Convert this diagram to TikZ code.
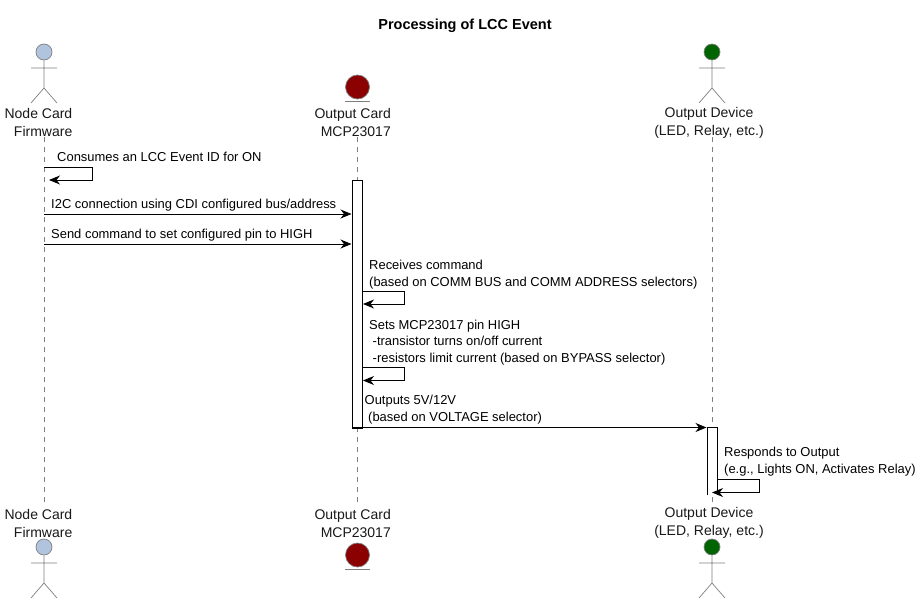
\documentclass[tikz,border=0pt]{standalone}
\usepackage{fontspec}
\setmainfont{Liberation Sans}
\usepackage{tikz}
\usetikzlibrary{arrows.meta}
\usetikzlibrary{calc}
\definecolor{headblue}{HTML}{B0C4DE}
\definecolor{cardred}{HTML}{8B0000}
\definecolor{devgreen}{HTML}{006400}
\definecolor{linegray}{HTML}{7F7F7F}
\definecolor{inkblack}{HTML}{181818}
\tikzset{
	x=1pt, y=-1pt,
	lifeline/.style={draw=linegray, dash pattern=on 5pt off 5pt, line width=0.6pt},
	stick/.style={draw=linegray, line width=0.7pt},
	headnode/.style={circle, draw=linegray, line width=0.7pt, minimum size=16pt, inner sep=0pt},
	entnode/.style={circle, draw=linegray, line width=0.7pt, minimum size=24pt, inner sep=0pt, fill=cardred},
	partlabel/.style={align=right, anchor=east, inner sep=0pt, font=\fontsize{14}{18}\selectfont, text=inkblack},
	devlabelstyle/.style={align=center, inner sep=0pt, font=\fontsize{14}{18}\selectfont, text=inkblack},
	msgtext/.style={align=left, anchor=west, inner sep=0pt, font=\fontsize{12.95}{16.5}\selectfont, text=black},
	msg/.style={draw=black, line width=0.9pt, -{Stealth[length=11pt,width=9pt,inset=3.5pt]}},
	activation/.style={draw=black, line width=0.9pt, fill=white}
}
\begin{document}
\begin{tikzpicture}
\useasboundingbox (0,0) rectangle (924,603);
\node[font=\fontsize{14.5}{16}\selectfont\bfseries] (title) at (465,26) {Processing of LCC Event};

% lifelines
\foreach \nm/\px in {fw/44, mc/357.5, dev/712}{
	\coordinate (\nm top) at (\px,137);
	\coordinate (\nm bot) at (\px,505);
	\path[lifeline] (\nm top) -- (\nm bot);
}

% participants
\foreach \nm/\py/\col in {fwhead/52/headblue, fwtail/547/headblue}{
	\node[headnode, fill=\col] (\nm) at (44,\py) {};
	\coordinate (\nm hip) at ($(\nm)+(0,36)$);
	\path[stick] (\nm.south) -- (\nm hip) -- +(-13,15) (\nm hip) -- +(13,15)
		($(\nm)+(-13,16)$) -- ($(\nm)+(13,16)$);
}
\foreach \nm/\py/\col in {devhead/52/devgreen, devtail/547/devgreen}{
	\node[headnode, fill=\col] (\nm) at (712,\py) {};
	\coordinate (\nm hip) at ($(\nm)+(0,36)$);
	\path[stick] (\nm.south) -- (\nm hip) -- +(-13,15) (\nm hip) -- +(13,15)
		($(\nm)+(-13,16)$) -- ($(\nm)+(13,16)$);
}
\foreach \nm/\py in {mchead/87, mctail/555}{
	\node[entnode] (\nm) at (357.5,\py) {};
	\path[stick] ($(\nm)+(-12.5,14)$) -- ($(\nm)+(12.5,14)$);
}

\node[partlabel] (fwlabel) at (72.5,122.5) {Node Card\\Firmware};
\node[partlabel] (mclabel) at (391,122.5) {Output Card\\MCP23017};
\node[devlabelstyle] (devlabel) at (709,122.5) {Output Device\\(LED, Relay, etc.)};
\node[partlabel] (fwlabelb) at (72.5,523) {Node Card\\Firmware};
\node[partlabel] (mclabelb) at (391,523) {Output Card\\MCP23017};
\node[devlabelstyle] (devlabelb) at (709,523) {Output Device\\(LED, Relay, etc.)};

% activations
\node[activation, minimum width=10pt, minimum height=248pt, inner sep=0pt, anchor=north] (mcbar) at (357.5,179.5) {};
\path[activation] (707.5,495) |- (717.5,427.5) -- (717.5,495);

% messages
\coordinate (fwself) at (44,167);
\coordinate (fwback) at (49,180);
\coordinate (fwi2c) at (44,214);
\coordinate (mci2c) at (351.5,214);
\coordinate (fwsend) at (44,244);
\coordinate (mcsend) at (351.5,244);
\coordinate (mcrecv) at (362.5,291.5);
\coordinate (mcrecvb) at (363,304);
\coordinate (mcsets) at (362.5,367);
\coordinate (mcsetsb) at (363,380.5);
\coordinate (mcout) at (352.5,427.5);
\coordinate (devout) at (706.5,427.5);
\coordinate (devresp) at (717.5,479);
\coordinate (devrespb) at (712,492.5);

\path[msg] (fwself) -- (92,167) -- (92,180) -- (fwback);
\path[msg] (fwi2c) -- (mci2c);
\path[msg] (fwsend) -- (mcsend);
\path[msg] (mcrecv) -- (404.5,291.5) -- (404.5,304) -- (mcrecvb);
\path[msg] (mcsets) -- (404.5,367) -- (404.5,380.5) -- (mcsetsb);
\path[msg] (mcout) -- (devout);
\path[msg] (devresp) -- (759.5,479) -- (759.5,492.5) -- (devrespb);

% message labels
\node[msgtext] (consumes) at (57,157) {Consumes an LCC Event ID for ON};
\node[msgtext] (i2c) at (51,205.5) {I2C connection using CDI configured bus/address};
\node[msgtext] (sendcmd) at (51,235.5) {Send command to set configured pin to HIGH};
\node[msgtext] (receives) at (369,274.5) {Receives command\\(based on COMM BUS and COMM ADDRESS selectors)};
\node[msgtext] (sets) at (369,342.5) {Sets MCP23017 pin HIGH\\\hspace{3.5pt}-transistor turns on/off current\\\hspace{3.5pt}-resistors limit current (based on BYPASS selector)};
\node[msgtext] (outputs) at (364.5,409.5) {Outputs 5V/12V\\\hspace{3.5pt}(based on VOLTAGE selector)};
\node[msgtext] (responds) at (724,461.5) {Responds to Output\\(e.g., Lights ON, Activates Relay)};
\end{tikzpicture}
\end{document}
